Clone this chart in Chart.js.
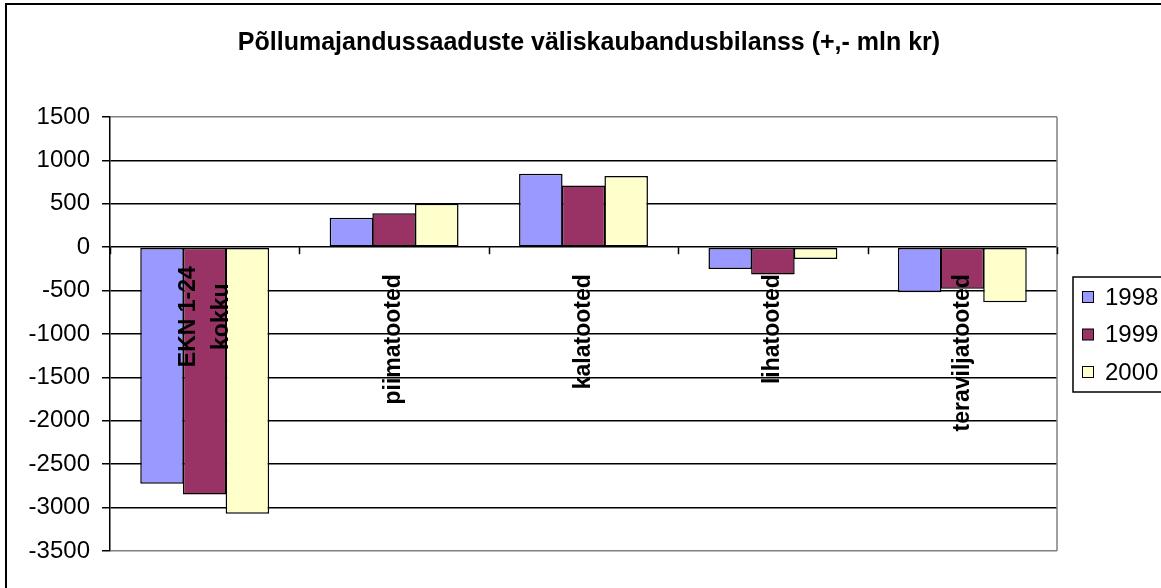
<!DOCTYPE html>
<html><head><meta charset="utf-8">
<script src="https://cdn.jsdelivr.net/npm/chart.js@4/dist/chart.umd.min.js"></script>
<style>html,body{margin:0;padding:0;background:#fff;overflow:hidden}canvas{display:block}</style>
</head><body>
<canvas id="c" width="1161" height="588"></canvas>
<script>
const TITLE = 'Põllumajandussaaduste väliskaubandusbilanss (+,- mln kr)';
const categories = [['EKN 1-24', 'kokku'], 'piimatooted', 'kalatooted', 'lihatooted', 'teraviljatooted'];
const seriesNames = ['1998', '1999', '2000'];
const values1998 = [-2725, 340, 845, -250, -520];
const values1999 = [-2850, 390, 710, -315, -480];
const values2000 = [-3070, 500, 820, -135, -635];
const yMin = -3500, yMax = 1500, yStep = 500;
const seriesColors = ['#9999FF', '#993366', '#FFFFCC'];
const FONT = '"Liberation Sans", Arial, sans-serif';

const decor = {
  id: 'decor',
  beforeDraw(chart) {
    const ctx = chart.ctx;
    ctx.save();
    ctx.fillStyle = '#fff';
    ctx.fillRect(0, 0, chart.width, chart.height);
    ctx.strokeStyle = '#000';
    ctx.lineWidth = 2;
    ctx.beginPath();
    ctx.moveTo(6, chart.height + 5);
    ctx.lineTo(6, 4);
    ctx.lineTo(chart.width + 5, 4);
    ctx.stroke();
    ctx.fillStyle = '#000';
    ctx.font = 'bold 25px ' + FONT;
    ctx.textAlign = 'center';
    ctx.textBaseline = 'alphabetic';
    ctx.fillText(TITLE, 589, 50);
    ctx.restore();
  },
  afterDatasetsDraw(chart) {
    const ctx = chart.ctx;
    const xs = chart.scales.x, ys = chart.scales.y;
    const area = chart.chartArea;
    const zero = ys.getPixelForValue(0);
    ctx.save();
    ctx.strokeStyle = '#808080';
    ctx.lineWidth = 1.5;
    ctx.beginPath();
    ctx.moveTo(area.right, area.top);
    ctx.lineTo(area.right, area.bottom);
    ctx.stroke();
    const n = categories.length;
    const w = xs.getPixelForValue(1) - xs.getPixelForValue(0);
    ctx.strokeStyle = '#000';
    ctx.lineWidth = 1.5;
    for (let i = 0; i <= n; i++) {
      const bx = Math.round(xs.getPixelForValue(i) - w / 2) + 0.5;
      ctx.beginPath();
      ctx.moveTo(bx, zero);
      ctx.lineTo(bx, zero + 7);
      ctx.stroke();
    }
    ctx.fillStyle = '#000';
    ctx.font = 'bold 23px ' + FONT;
    ctx.textBaseline = 'middle';
    categories.forEach((lab, i) => {
      const lines = Array.isArray(lab) ? lab : [lab];
      const cx = xs.getPixelForValue(i);
      const widths = lines.map(l => ctx.measureText(l).width);
      const maxW = Math.max(...widths);
      const endOff = lines.length > 1 ? 19 : 27;
      const spacing = 33;
      ctx.save();
      ctx.translate(cx, zero + endOff);
      ctx.rotate(-Math.PI / 2);
      ctx.textAlign = 'center';
      lines.forEach((l, j) => {
        const off = (j - (lines.length - 1) / 2) * spacing;
        ctx.fillText(l, -maxW / 2, off);
      });
      ctx.restore();
    });
    ctx.restore();
  },
  afterDraw(chart) {
    const ctx = chart.ctx;
    ctx.save();
    const bx = 1073, by = 277, bh = 115;
    ctx.strokeStyle = '#000';
    ctx.lineWidth = 1.5;
    ctx.strokeRect(bx, by, 200, bh);
    ctx.font = '24px ' + FONT;
    ctx.textBaseline = 'middle';
    ctx.textAlign = 'left';
    chart.data.datasets.forEach((ds, i) => {
      const cy = 297 + i * 37.5;
      ctx.fillStyle = ds.backgroundColor;
      ctx.fillRect(1082, cy - 5.5, 11, 11);
      ctx.strokeStyle = '#000';
      ctx.lineWidth = 1;
      ctx.strokeRect(1082.5, cy - 5.5, 11, 11);
      ctx.fillStyle = '#000';
      ctx.fillText(ds.label, 1105, cy + 1);
    });
    ctx.restore();
  }
};

const seriesValues = [values1998, values1999, values2000];

new Chart(document.getElementById('c'), {
  type: 'bar',
  data: {
    labels: categories,
    datasets: seriesNames.map((name, i) => ({
      label: name,
      data: seriesValues[i],
      backgroundColor: seriesColors[i],
      borderColor: '#000',
      borderWidth: 1.5,
      borderSkipped: false,
      categoryPercentage: 0.676,
      barPercentage: 1.02
    }))
  },
  options: {
    responsive: false,
    animation: false,
    devicePixelRatio: 1,
    layout: { padding: { left: 0, top: 117, right: 104, bottom: 37 } },
    plugins: { legend: { display: false }, title: { display: false }, tooltip: { enabled: false } },
    scales: {
      x: { display: false },
      y: {
        min: yMin, max: yMax,
        afterFit(scale) { scale.width = 110; },
        ticks: {
          stepSize: yStep, color: '#000', padding: 12,
          font: { family: FONT, size: 24 },
          callback: v => String(v)
        },
        grid: {
          color: ctx => (ctx.tick && (ctx.tick.value === yMax || ctx.tick.value === yMin)) ? '#808080' : '#000',
          lineWidth: 1.5,
          tickColor: '#000',
          tickLength: 8
        },
        border: { color: '#000', width: 1.5 }
      }
    }
  },
  plugins: [decor]
});
</script>
</body></html>
